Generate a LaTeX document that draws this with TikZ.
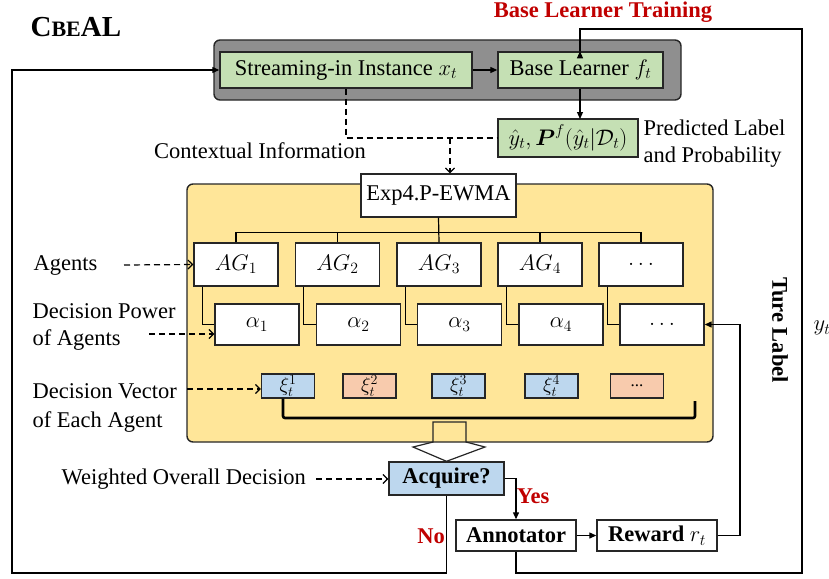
\documentclass[tikz,border=0pt]{standalone}
\usepackage{fix-cm}
\usepackage{amsmath}
\usepackage{fontspec}
\setmainfont{Liberation Serif}
\usetikzlibrary{arrows.meta}
\definecolor{greenf}{HTML}{C5E0B4}
\definecolor{yellowf}{HTML}{FFE699}
\definecolor{bluef}{HTML}{BDD7EE}
\definecolor{orangef}{HTML}{F8CBAD}
\definecolor{grayf}{HTML}{8F8F8F}
\definecolor{redt}{HTML}{C00000}
\definecolor{edge}{HTML}{262626}
\begin{document}
\begin{tikzpicture}[x=1pt,y=-1pt,
  font=\fontsize{22.5}{27}\selectfont,
  line width=1.2pt,
  bx/.style={draw=edge, line width=1.4pt, inner sep=0pt, align=center},
  gbox/.style={bx, fill=greenf},
  wbox/.style={bx, fill=white},
  agbox/.style={wbox, minimum width=84pt, minimum height=43pt},
  albox/.style={wbox, minimum width=84pt, minimum height=41pt},
  xibox/.style={bx, minimum width=53pt, minimum height=24pt, font=\fontsize{20}{20}\selectfont},
  arr/.style={-{Triangle[length=7pt,width=6pt]}},
  darr/.style={dashed, dash pattern=on 6pt off 4pt, -{Straight Barb[length=4.5pt,width=9pt]}},
  lbl/.style={inner sep=0pt, align=left},
  redlbl/.style={inner sep=0pt, text=redt, font=\fontsize{22.5}{27}\selectfont\bfseries}
]
\useasboundingbox (0,0) rectangle (829,578);
\clip (0,0) rectangle (829,578);

% title
\node[anchor=west, inner sep=0pt] (title) at (30,27) {\bfseries\fontsize{29}{30}\selectfont C\fontsize{22}{22}\selectfont BE\fontsize{29}{30}\selectfont AL};

% top learner group
\node[draw=edge, fill=grayf, line width=1.4pt, rounded corners=6pt, minimum width=467pt, minimum height=60pt] (learn) at (447.5,70) {};
\node[gbox, minimum width=252pt, minimum height=36pt] (stream) at (346,70) {Streaming-in Instance $x_t$};
\node[gbox, minimum width=165pt, minimum height=36pt] (base) at (580.5,70) {Base Learner $f_t$};
\draw[arr] (stream) -- (base);

\node[redlbl] (blt) at (603,12) {Base Learner Training};

% predicted
\node[gbox, minimum width=140pt, minimum height=38pt] (pred) at (568,138) {$\hat{y}_t,\boldsymbol{P}^f(\hat{y}_t|\mathcal{D}_t)$};
\draw[arr] (base.south -| 580,0) -- (580,119);
\node[lbl, anchor=west] (predlbl) at (643,144) {Predicted Label\\and Probability};

% contextual info
\node[lbl] (ctx) at (260,151) {Contextual Information};

% yellow panel
\node[draw=edge, fill=yellowf, line width=1.4pt, rounded corners=6pt, minimum width=526pt, minimum height=258pt] (panel) at (450,313) {};
\node[wbox, minimum width=155pt, minimum height=43pt] (exp4) at (438.5,195.5) {Exp4.P-EWMA};

% dashed contextual line
\draw[dashed, dash pattern=on 6pt off 4pt] (stream.south) |- (pred.west);
\coordinate (cj) at (450,138);
\draw[darr] (cj) -- (cj |- exp4.north);

% agents
\node[agbox] (ag1) at (236,264.5) {$AG_1$};
\node[agbox] (ag2) at (337.5,264.5) {$AG_2$};
\node[agbox] (ag3) at (439,264.5) {$AG_3$};
\node[agbox] (ag4) at (540,264.5) {$AG_4$};
\node[agbox] (ag5) at (641,264.5) {$\ldots$};

% alphas
\node[albox] (al1) at (257,324.5) {$\alpha_1$};
\node[albox] (al2) at (358.5,324.5) {$\alpha_2$};
\node[albox] (al3) at (459.5,324.5) {$\alpha_3$};
\node[albox] (al4) at (561,324.5) {$\alpha_4$};
\node[albox] (al5) at (662,324.5) {$\ldots$};

% tree
\draw (exp4.south) -- (ag3.north);
\draw (ag1.north) -- ++(0,-9.5) -| (ag5.north);
\draw (ag2.north) -- ++(0,-9.5);
\draw (ag4.north) -- ++(0,-9.5);
\foreach \i in {1,...,5}{
  \draw ([xshift=9pt]ag\i.south west) |- (al\i.west);
}

% xi vectors
\node[xibox, fill=bluef] (xi1) at (288,386) {$\xi_t^1$};
\node[xibox, fill=orangef] (xi2) at (369.5,386) {$\xi_t^2$};
\node[xibox, fill=bluef] (xi3) at (458.5,386) {$\xi_t^3$};
\node[xibox, fill=bluef] (xi4) at (551.5,386) {$\xi_t^4$};
\node[xibox, fill=orangef, font=\fontsize{17}{17}\selectfont] (xi5) at (637,386) {...};

\coordinate (bkr) at (695,418);
\coordinate (bke) at (695,401);
\draw[line width=2.6pt, rounded corners=2pt] ([xshift=-5pt]xi1.south) |- (bkr) -- (bke);

% decision node
\node[bx, fill=bluef, minimum width=115pt, minimum height=33pt, font=\fontsize{22.5}{27}\selectfont\bfseries] (acq) at (446.5,478.5) {Acquire?};
\draw[line width=1.2pt, draw=edge] (433,442) -- (433,422) -- (466,422) -- (466,442) -- (485,447) -- (acq.north) -- (413,447) -- cycle;

% annotator, reward
\node[wbox, minimum width=120pt, minimum height=31pt, font=\fontsize{22.5}{27}\selectfont\bfseries] (annot) at (516,535.5) {Annotator};
\node[wbox, minimum width=120pt, minimum height=31pt, font=\fontsize{22.5}{27}\selectfont\bfseries] (reward) at (657,535.5) {Reward $r_t$};
\draw[arr] (annot) -- (reward);
\draw[arr] (acq.east) -| (annot.north);
\node[redlbl] (yes) at (533,496) {Yes};
\node[redlbl] (no) at (431,536) {No};

% reward back to decision power
\coordinate (rr) at (740,324.5);
\draw[arr] (reward.east) -| (rr) -- (al5.east);

% base learner training loop
\coordinate (br) at (802,573);
\coordinate (tr) at (802,29);
\draw[arr] (annot.south) |- (br) -- (tr) -| (base.north -| 580,0) -- (base.north -| 580,0);
\node[inner sep=0pt, rotate=-90, font=\fontsize{22.5}{27}\selectfont\bfseries] (ture) at (780,330) {Ture Label};
\node[anchor=west, inner sep=0pt] (yt) at (813,328) {$y_t$};

% No loop
\coordinate (bl) at (12,573);
\draw[arr] (acq.south) |- (bl) |- (stream.west);

% left labels
\node[lbl, anchor=west] (agl) at (33,265) {Agents};
\coordinate (agls) at (124,265);
\draw[darr] (agls) -- (ag1.west);

\node[lbl, anchor=west, font=\fontsize{22.5}{27.5}\selectfont] (dpl) at (32,327) {Decision Power\\of Agents};
\coordinate (dpls) at (149,334);
\draw[darr] (dpls) -- (dpls -| al1.west);

\node[lbl, anchor=west, font=\fontsize{22.5}{29.5}\selectfont] (dvl) at (32,408) {Decision Vector\\of Each Agent};
\coordinate (dvls) at (187,389);
\draw[darr] (dvls) -- (dvls -| xi1.west);

\node[lbl, anchor=west] (wod) at (61,479) {Weighted Overall Decision};
\coordinate (wods) at (316,479);
\draw[darr] (wods) -- (wods -| acq.west);
\end{tikzpicture}
\end{document}
